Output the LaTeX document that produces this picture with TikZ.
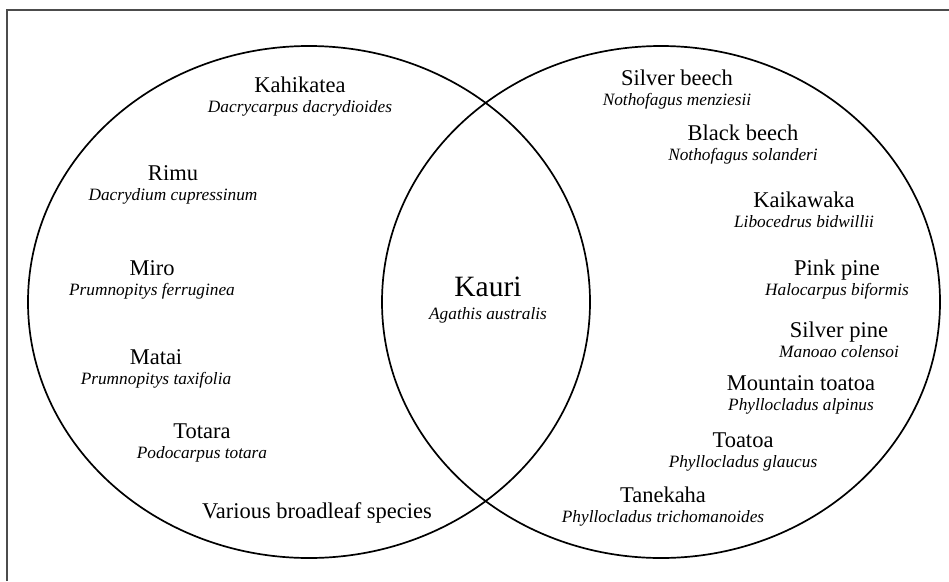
\documentclass[tikz,border=0pt]{standalone}
\usepackage{fontspec}
\setmainfont{Liberation Serif}
\newcommand{\sciname}[1]{{\itshape\fontsize{17.3}{20}\selectfont #1}}

\begin{document}
\begin{tikzpicture}[x = 1pt, y = -1pt,
    tree/.style = {anchor = base, align = center, inner sep = 0pt, font = \fontsize{22.5}{20}\selectfont},
    ring/.style = {draw, line width = 1.7pt}]
    \useasboundingbox (0,0) rectangle (949,581);
    \draw[line width = 1.6pt, black!70] (7,581) -- (7,10) -- (949,10);
    \draw[ring] (309,302) ellipse [x radius = 281, y radius = 256];
    \draw[ring] (661,302) ellipse [x radius = 279, y radius = 256];
    \node[tree] (Kahikatea) at (300,112) {Kahikatea\\\sciname{Dacrycarpus dacrydioides}};
    \node[tree] (Rimu) at (173,200) {Rimu\\\sciname{Dacrydium cupressinum}};
    \node[tree] (Miro) at (152,295) {Miro\\\sciname{Prumnopitys ferruginea}};
    \node[tree] (Matai) at (156,384) {Matai\\\sciname{Prumnopitys taxifolia}};
    \node[tree] (Totara) at (202,458) {Totara\\\sciname{Podocarpus totara}};
    \node[tree] (Broadleaf) at (317,518) {Various broadleaf species};
    \node[tree, font = \fontsize{29.5}{23}\selectfont] (Kauri) at (488,319) {Kauri\\\sciname{Agathis australis}};
    \node[tree] (SilverBeech) at (677,105) {Silver beech\\\sciname{Nothofagus menziesii}};
    \node[tree] (BlackBeech) at (743,160) {Black beech\\\sciname{Nothofagus solanderi}};
    \node[tree] (Kaikawaka) at (804,227) {Kaikawaka\\\sciname{Libocedrus bidwillii}};
    \node[tree] (PinkPine) at (837,295) {Pink pine\\\sciname{Halocarpus biformis}};
    \node[tree] (SilverPine) at (839,357) {Silver pine\\\sciname{Manoao colensoi}};
    \node[tree] (MountainToatoa) at (801,410) {Mountain toatoa\\\sciname{Phyllocladus alpinus}};
    \node[tree] (Toatoa) at (743,467) {Toatoa\\\sciname{Phyllocladus glaucus}};
    \node[tree] (Tanekaha) at (663,522) {Tanekaha\\\sciname{Phyllocladus trichomanoides}};
\end{tikzpicture}
\end{document}
